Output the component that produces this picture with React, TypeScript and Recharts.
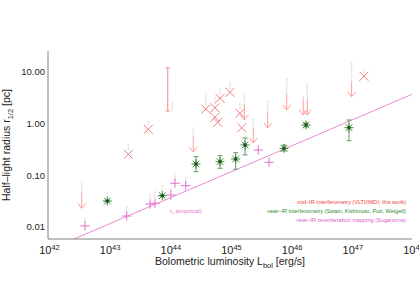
import React from "react";
import { ComposedChart, Scatter, Line, XAxis, YAxis, ErrorBar } from "recharts";

// luminosity in erg/s, radius in pc

// mid-IR interferometry, resolved sizes
const midLum = [2.11e43, 4.5e43, 4.0e44, 5.66e44, 6.84e44, 1.0e45, 5.66e44, 6.27e44, 1.46e45, 1.56e45, 1.61e47];
const midRad = [0.255, 0.778, 1.92, 2.04, 3.1, 4.05, 1.33, 1.06, 1.59, 0.836, 8.26];

// mid-IR upper limits (arrows)
const limLum = [3.59e42, 2.48e44, 1.72e45, 2.42e45, 4.18e45, 8.6e45, 1.61e46, 1.88e46, 1.01e47];
const limRad = [0.0449, 0.552, 2.3, 0.824, 1.61, 3.59, 2.87, 2.87, 6.49];

// mid-IR source with only a range
const rangeLum = [9.4e43];
const rangeRad = [4.6];
const rangeLo = [1.76];
const rangeHi = [12.1];

// near-IR interferometry
const nirLum = [9.5e42, 7.66e43, 2.75e44, 6.84e44, 1.24e45, 1.77e45, 7.76e45, 1.79e46, 9.15e46];
const nirRad = [0.0318, 0.0404, 0.166, 0.184, 0.207, 0.386, 0.333, 0.942, 0.836];
const nirLo = [0.0318, 0.0404, 0.1175, 0.137, 0.131, 0.248, 0.296, 0.87, 0.468];
const nirHi = [0.0318, 0.0404, 0.2297, 0.24, 0.274, 0.528, 0.386, 1.03, 1.18];

// near-IR reverberation mapping
const revLum = [4.07e42, 1.98e43, 4.8e43, 5.8e43, 1.06e44, 1.24e44, 1.86e44, 2.92e45, 4.4e45];
const revRad = [0.0105, 0.0163, 0.0279, 0.0288, 0.0417, 0.0702, 0.0631, 0.309, 0.179];

// faint grey dotted segments above the points
const greyLum = [2.11e43, 4.5e43, 4.0e44, 5.66e44, 6.84e44, 1.0e45, 1.46e45, 1.61e47, 1.12e44,
  3.59e42, 2.48e44, 1.72e45, 2.42e45, 4.18e45, 8.6e45, 1.61e46, 1.88e46, 1.01e47,
  9.5e42, 7.66e43, 4.07e42, 1.98e43, 4.8e43, 5.8e43, 1.06e44, 1.24e44, 1.86e44];
const greyLo = [0.309, 0.94, 2.3, 2.4, 3.59, 4.69, 1.84, 9.44, 1.76,
  0.0449, 0.552, 2.3, 0.824, 1.61, 3.59, 2.87, 2.87, 6.49,
  0.0386, 0.0482, 0.0127, 0.0187, 0.036, 0.0365, 0.0482, 0.0813, 0.0702];
const greyHi = [0.405, 1.18, 3.87, 3.33, 4.97, 6.32, 2.59, 11.4, 2.75,
  0.0753, 0.873, 3.92, 1.29, 2.87, 7.66, 3.59, 6.12, 14.9,
  0.0482, 0.065, 0.0159, 0.0255, 0.0461, 0.052, 0.0603, 0.106, 0.0942];

// r_s (empirical) line end points
const rsLum = [2.68e42, 1e48];
const rsRad = [0.00586, 3.7];

const xTicks = [1e42, 1e43, 1e44, 1e45, 1e46, 1e47, 1e48];
const yTicks = [0.01, 0.1, 1, 10];
const yMinor = [0.006, 0.007, 0.008, 0.009, 0.02, 0.03, 0.04, 0.05, 0.06, 0.07, 0.08, 0.09,
  0.2, 0.3, 0.4, 0.5, 0.6, 0.7, 0.8, 0.9, 2, 3, 4, 5, 6, 7, 8, 9, 20];

const xDomain = [1e42, 1e48];
const yDomain = [0.00586, 25.5];

const FONT = "'Liberation Sans', Arial, sans-serif";
const AXIS = "#808080";
const RED = "#f47a7a";
const GREEN = "#3d8a3d";
const PINK = "#e370c8";

const midData = midLum.map((L, i) => ({ L, r: midRad[i] }));
const limData = limLum.map((L, i) => ({ L, r: limRad[i] }));
const rangeData = rangeLum.map((L, i) => ({ L, r: rangeRad[i], err: [rangeRad[i] - rangeLo[i], rangeHi[i] - rangeRad[i]] }));
const nirData = nirLum.map((L, i) => ({ L, r: nirRad[i], err: [nirRad[i] - nirLo[i], nirHi[i] - nirRad[i]] }));
const revData = revLum.map((L, i) => ({ L, r: revRad[i] }));
const greyData = greyLum.map((L, i) => ({ L, r: greyLo[i], g: [0, greyHi[i] - greyLo[i]] }));
const rsData = rsLum.map((L, i) => ({ L, r: rsRad[i] }));

const Cross = (p: any) => {
  const { cx, cy } = p;
  const s = 4.5;
  return (
    <g stroke={RED} strokeWidth={1}>
      <line x1={cx - s} y1={cy - s} x2={cx + s} y2={cy + s} />
      <line x1={cx - s} y1={cy + s} x2={cx + s} y2={cy - s} />
    </g>
  );
};

const Arrow = (p: any) => {
  const { cx, cy } = p;
  const len = 15;
  return (
    <g stroke="#ff9d9d" strokeWidth={1} fill="none">
      <line x1={cx} y1={cy} x2={cx} y2={cy + len} />
      <polyline points={`${cx - 4},${cy + len - 5} ${cx},${cy + len} ${cx + 4},${cy + len - 5}`} />
    </g>
  );
};

const Star = (p: any) => {
  const { cx, cy } = p;
  const s = 4.5;
  const d = 3.3;
  return (
    <g stroke={GREEN} strokeWidth={1}>
      <line x1={cx - s} y1={cy} x2={cx + s} y2={cy} />
      <line x1={cx} y1={cy - s} x2={cx} y2={cy + s} />
      <line x1={cx - d} y1={cy - d} x2={cx + d} y2={cy + d} />
      <line x1={cx - d} y1={cy + d} x2={cx + d} y2={cy - d} />
      <rect x={cx - 1.5} y={cy - 1.5} width={3} height={3} fill="#1e4f1e" stroke="none" />
    </g>
  );
};

const Plus = (p: any) => {
  const { cx, cy } = p;
  const s = 4.7;
  return (
    <g stroke={PINK} strokeWidth={1}>
      <line x1={cx - s} y1={cy} x2={cx + s} y2={cy} />
      <line x1={cx} y1={cy - s} x2={cx} y2={cy + s} />
    </g>
  );
};

const Empty = () => <g />;

const XTick = (p: any) => {
  const { x, y, payload } = p;
  const e = Math.round(Math.log10(payload.value));
  return (
    <text x={x + 1.5} y={y + 15} textAnchor="middle" fontSize={11} fill="#222" fontFamily={FONT}>
      10<tspan fontSize={7.5} dy={-4.5}>{e}</tspan>
    </text>
  );
};

export default function App() {
  return (
    <div style={{ position: "absolute", left: 0, top: 0, width: 419, height: 308, background: "#fff" }}>
      <ComposedChart width={419} height={308} margin={{ top: 51, right: 7, bottom: 0, left: 0 }}>
        <XAxis xAxisId="x" dataKey="L" type="number" scale="log" domain={xDomain} allowDataOverflow
          ticks={xTicks} interval={0} tickLine={false} tickSize={0} tickMargin={0} height={69}
          axisLine={{ stroke: AXIS }} tick={(p: any) => <XTick {...p} />} />
        <XAxis xAxisId="xb" orientation="bottom" mirror type="number" scale="log" domain={xDomain} allowDataOverflow
          ticks={xTicks} interval={0} tickSize={4} height={0} axisLine={false} tickLine={{ stroke: AXIS }} tick={Empty} />
        <XAxis xAxisId="xt" orientation="top" mirror type="number" scale="log" domain={xDomain} allowDataOverflow
          ticks={xTicks} interval={0} tickSize={4} height={0} axisLine={{ stroke: AXIS }} tickLine={{ stroke: AXIS }} tick={Empty} />

        <YAxis yAxisId="y" dataKey="r" type="number" scale="log" domain={yDomain} allowDataOverflow
          ticks={yTicks} interval={0} tickLine={false} tickSize={0} tickMargin={3} width={48}
          axisLine={{ stroke: AXIS }} tickFormatter={(v: number) => v.toFixed(2)}
          tick={{ fontSize: 9.5, fill: "#222", fontFamily: FONT }} />
        <YAxis yAxisId="yl" orientation="left" mirror type="number" scale="log" domain={yDomain} allowDataOverflow
          ticks={yTicks} interval={0} tickSize={7} width={0} axisLine={false} tickLine={{ stroke: AXIS }} tick={Empty} />
        <YAxis yAxisId="ylm" orientation="left" mirror type="number" scale="log" domain={yDomain} allowDataOverflow
          ticks={yMinor} interval={0} tickSize={4} width={0} axisLine={false} tickLine={{ stroke: AXIS }} tick={Empty} />
        <YAxis yAxisId="yr" orientation="right" mirror type="number" scale="log" domain={yDomain} allowDataOverflow
          ticks={yTicks} interval={0} tickSize={7} width={0} axisLine={{ stroke: AXIS }} tickLine={{ stroke: AXIS }} tick={Empty} />
        <YAxis yAxisId="yrm" orientation="right" mirror type="number" scale="log" domain={yDomain} allowDataOverflow
          ticks={yMinor} interval={0} tickSize={4} width={0} axisLine={false} tickLine={{ stroke: AXIS }} tick={Empty} />

        <Line xAxisId="x" yAxisId="y" data={rsData} dataKey="r" stroke="#e98ad6" strokeWidth={1}
          dot={false} activeDot={false} isAnimationActive={false} />

        <Scatter xAxisId="x" yAxisId="y" data={greyData} shape={Empty} isAnimationActive={false}>
          <ErrorBar dataKey="g" direction="y" width={0} stroke="#dadada" strokeWidth={1.5}
            strokeDasharray="1.5 1" isAnimationActive={false} />
        </Scatter>
        <Scatter xAxisId="x" yAxisId="y" data={revData} shape={Plus} isAnimationActive={false} />
        <Scatter xAxisId="x" yAxisId="y" data={nirData} shape={Star} isAnimationActive={false}>
          <ErrorBar dataKey="err" direction="y" width={2.5} stroke="#5f9f5f" strokeWidth={1} isAnimationActive={false} />
        </Scatter>
        <Scatter xAxisId="x" yAxisId="y" data={rangeData} shape={Empty} isAnimationActive={false}>
          <ErrorBar dataKey="err" direction="y" width={2} stroke="#f49a9a" strokeWidth={1.2} isAnimationActive={false} />
        </Scatter>
        <Scatter xAxisId="x" yAxisId="y" data={limData} shape={Arrow} isAnimationActive={false} />
        <Scatter xAxisId="x" yAxisId="y" data={midData} shape={Cross} isAnimationActive={false} />
      </ComposedChart>

      <svg width={419} height={308} style={{ position: "absolute", left: 0, top: 0, pointerEvents: "none" }}
        fontFamily={FONT}>
        <text x={230} y={265} textAnchor="middle" fontSize={10.5} fill="#222">
          Bolometric luminosity L<tspan fontSize={7.5} dy={2.5}>bol</tspan><tspan dy={-2.5}> [erg/s]</tspan>
        </text>
        <text transform="translate(10,145) rotate(-90)" textAnchor="middle" fontSize={10.5} fill="#222">
          Half–light radius r<tspan fontSize={7.5} dy={2.5}>1/2</tspan><tspan dy={-2.5}> [pc]</tspan>
        </text>
        <text x={170} y={213} fontSize={5.6} fill={PINK}>
          r<tspan fontSize={4} dy={1}>s</tspan><tspan dy={-1}> (empirical)</tspan>
        </text>
        <g fontSize={5.6} textAnchor="end">
          <text x={406} y={204} fill="#f03c3c">mid–IR interferometry (VLTI/MIDI; this work)</text>
          <text x={406} y={213} fill="#2e8b2e">near–IR interferometry (Swain, Kishimoto, Pott, Weigelt)</text>
          <text x={406} y={221.5} fill="#e060c8">near–IR reverberation mapping (Suganuma)</text>
        </g>
      </svg>
    </div>
  );
}
